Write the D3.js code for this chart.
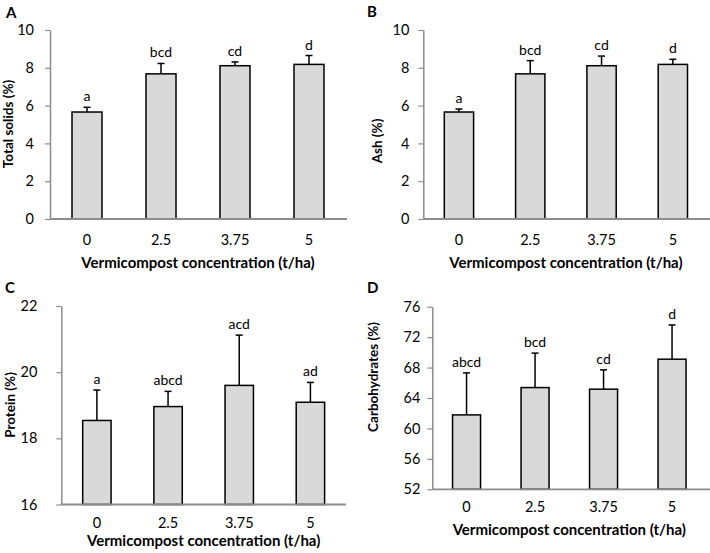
<!DOCTYPE html>
<html>
<head>
<meta charset="utf-8">
<script src="https://cdn.jsdelivr.net/npm/d3@7"></script>
<style>
  html, body { margin: 0; padding: 0; background: #fff; }
  svg { display: block; }
  text { font-family: Lato, "Open Sans", sans-serif; fill: #000; }
</style>
</head>
<body>
<svg id="chart" width="710" height="553"></svg>
<script>
// ---------- data ----------
const categories = ["0", "2.5", "3.75", "5"];
const xTitle = "Vermicompost concentration (t/ha)";

const totalSolidsMean = [5.66, 7.68, 8.11, 8.18];
const totalSolidsErr  = [0.25, 0.55, 0.20, 0.47];
const totalSolidsLetters = ["a", "bcd", "cd", "d"];
const totalSolidsTicks = [0, 2, 4, 6, 8, 10];

const ashMean = [5.66, 7.68, 8.11, 8.18];
const ashErr  = [0.16, 0.70, 0.51, 0.27];
const ashLetters = ["a", "bcd", "cd", "d"];
const ashTicks = [0, 2, 4, 6, 8, 10];

const proteinMean = [18.54, 18.96, 19.60, 19.09];
const proteinErr  = [0.92, 0.46, 1.52, 0.60];
const proteinLetters = ["a", "abcd", "acd", "ad"];
const proteinTicks = [16, 18, 20, 22];

const carbMean = [61.78, 65.37, 65.16, 69.10];
const carbErr  = [5.52, 4.53, 2.54, 4.50];
const carbLetters = ["abcd", "bcd", "cd", "d"];
const carbTicks = [52, 56, 60, 64, 68, 72, 76];

// ---------- layout ----------
const panels = [
  { tag: "A", yLabel: "Total solids (%)", mean: totalSolidsMean, err: totalSolidsErr, letters: totalSolidsLetters, ticks: totalSolidsTicks,
    x0: 50, x1: 346, lineEnd: 347, yTop: 30, yBot: 219, barW: 30, tickOff: 16,
    xTickY: 245, xTitleY: 268, yTitleX: 8, yTitleY: 124, tagX: 6, tagY: 18 },
  { tag: "B", yLabel: "Ash (%)", mean: ashMean, err: ashErr, letters: ashLetters, ticks: ashTicks,
    x0: 423.3, x1: 708.5, lineEnd: 710, yTop: 30, yBot: 219, barW: 29.3, tickOff: 14,
    xTickY: 245, xTitleY: 268, yTitleX: 377, yTitleY: 141, tagX: 367, tagY: 17 },
  { tag: "C", yLabel: "Protein (%)", mean: proteinMean, err: proteinErr, letters: proteinLetters, ticks: proteinTicks,
    x0: 61.3, x1: 346, lineEnd: 346, yTop: 306, yBot: 504.5, barW: 28.4, tickOff: 24,
    xTickY: 528, xTitleY: 546, yTitleX: 10, yTitleY: 405, tagX: 5, tagY: 293 },
  { tag: "D", yLabel: "Carbohydrates (%)", mean: carbMean, err: carbErr, letters: carbLetters, ticks: carbTicks,
    x0: 432.3, x1: 706.3, lineEnd: 710, yTop: 306.7, yBot: 489.3, barW: 28, tickOff: 12,
    xTickY: 512, xTitleY: 535, yTitleX: 373, yTitleY: 377, tagX: 367, tagY: 293 }
];

const axisColor = "#8c8c8c";
const tickFont = "14.5px";
const sigFont = "14px";
const titleFont = "15px";
const yTitleFont = "13.5px";
const svg = d3.select("#chart");

panels.forEach(p => {
  const g = svg.append("g");
  const n = categories.length;
  const step = (p.x1 - p.x0) / n;
  const pad = 1 - p.barW / step;
  const x = d3.scaleBand().domain(categories).range([p.x0, p.x1])
    .paddingInner(pad).paddingOuter(pad / 2);
  const y = d3.scaleLinear().domain([p.ticks[0], p.ticks[p.ticks.length - 1]]).range([p.yBot, p.yTop]);

  // y axis
  const yAxis = d3.axisLeft(y).tickValues(p.ticks).tickSize(5).tickSizeOuter(0).tickPadding(p.tickOff - 5)
    .tickFormat(d3.format("d"));
  const ya = g.append("g").attr("transform", `translate(${p.x0},0)`).call(yAxis);
  ya.select(".domain").attr("stroke", axisColor).attr("stroke-width", 1.5);
  ya.selectAll(".tick line").attr("stroke", axisColor).attr("stroke-width", 1.2);
  ya.selectAll(".tick text").style("font-family", "Lato").style("font-size", tickFont).attr("fill", "#000");

  // x axis labels
  const xAxis = d3.axisBottom(x).tickSize(0).tickSizeOuter(0).tickPadding(0);
  const xa = g.append("g").attr("transform", `translate(0,${p.yBot})`).call(xAxis);
  xa.select(".domain").remove();
  xa.selectAll(".tick text").attr("dy", null).attr("y", p.xTickY - p.yBot)
    .style("font-family", "Lato").style("font-size", tickFont).attr("fill", "#000");

  // bars
  g.selectAll("rect.bar").data(p.mean).enter().append("rect")
    .attr("class", "bar")
    .attr("x", (d, i) => x(categories[i]))
    .attr("y", d => y(d))
    .attr("width", x.bandwidth())
    .attr("height", d => y(p.ticks[0]) - y(d))
    .attr("fill", "#d9d9d9")
    .attr("stroke", "#000")
    .attr("stroke-width", 1.5);

  // error bars
  const cx = i => x(categories[i]) + x.bandwidth() / 2;
  g.selectAll("line.err").data(p.mean).enter().append("line")
    .attr("x1", (d, i) => cx(i)).attr("x2", (d, i) => cx(i))
    .attr("y1", d => y(d)).attr("y2", (d, i) => y(d + p.err[i]))
    .attr("stroke", "#000").attr("stroke-width", 1.5);
  g.selectAll("line.cap").data(p.mean).enter().append("line")
    .attr("x1", (d, i) => cx(i) - 3.5).attr("x2", (d, i) => cx(i) + 3.5)
    .attr("y1", (d, i) => y(d + p.err[i])).attr("y2", (d, i) => y(d + p.err[i]))
    .attr("stroke", "#000").attr("stroke-width", 1.5);

  // significance letters
  g.selectAll("text.sig").data(p.letters).enter().append("text")
    .attr("x", (d, i) => cx(i))
    .attr("y", (d, i) => y(p.mean[i] + p.err[i]) - 6)
    .attr("text-anchor", "middle")
    .style("font-size", sigFont)
    .text(d => d);

  // x axis line
  g.append("line").attr("x1", p.x0).attr("x2", p.lineEnd).attr("y1", p.yBot).attr("y2", p.yBot)
    .attr("stroke", axisColor).attr("stroke-width", 1.8);

  // titles
  g.append("text").attr("x", (p.x0 + p.x1) / 2).attr("y", p.xTitleY)
    .attr("text-anchor", "middle").style("font-size", titleFont).style("font-weight", "bold")
    .text(xTitle);
  g.append("text").attr("transform", `translate(${p.yTitleX},${p.yTitleY}) rotate(-90)`)
    .attr("text-anchor", "middle").attr("dy", "0.35em")
    .style("font-size", yTitleFont).style("font-weight", "bold")
    .text(p.yLabel);
  g.append("text").attr("x", p.tagX).attr("y", p.tagY)
    .style("font-size", "15px").style("font-weight", "bold")
    .text(p.tag);
});
</script>
</body>
</html>
